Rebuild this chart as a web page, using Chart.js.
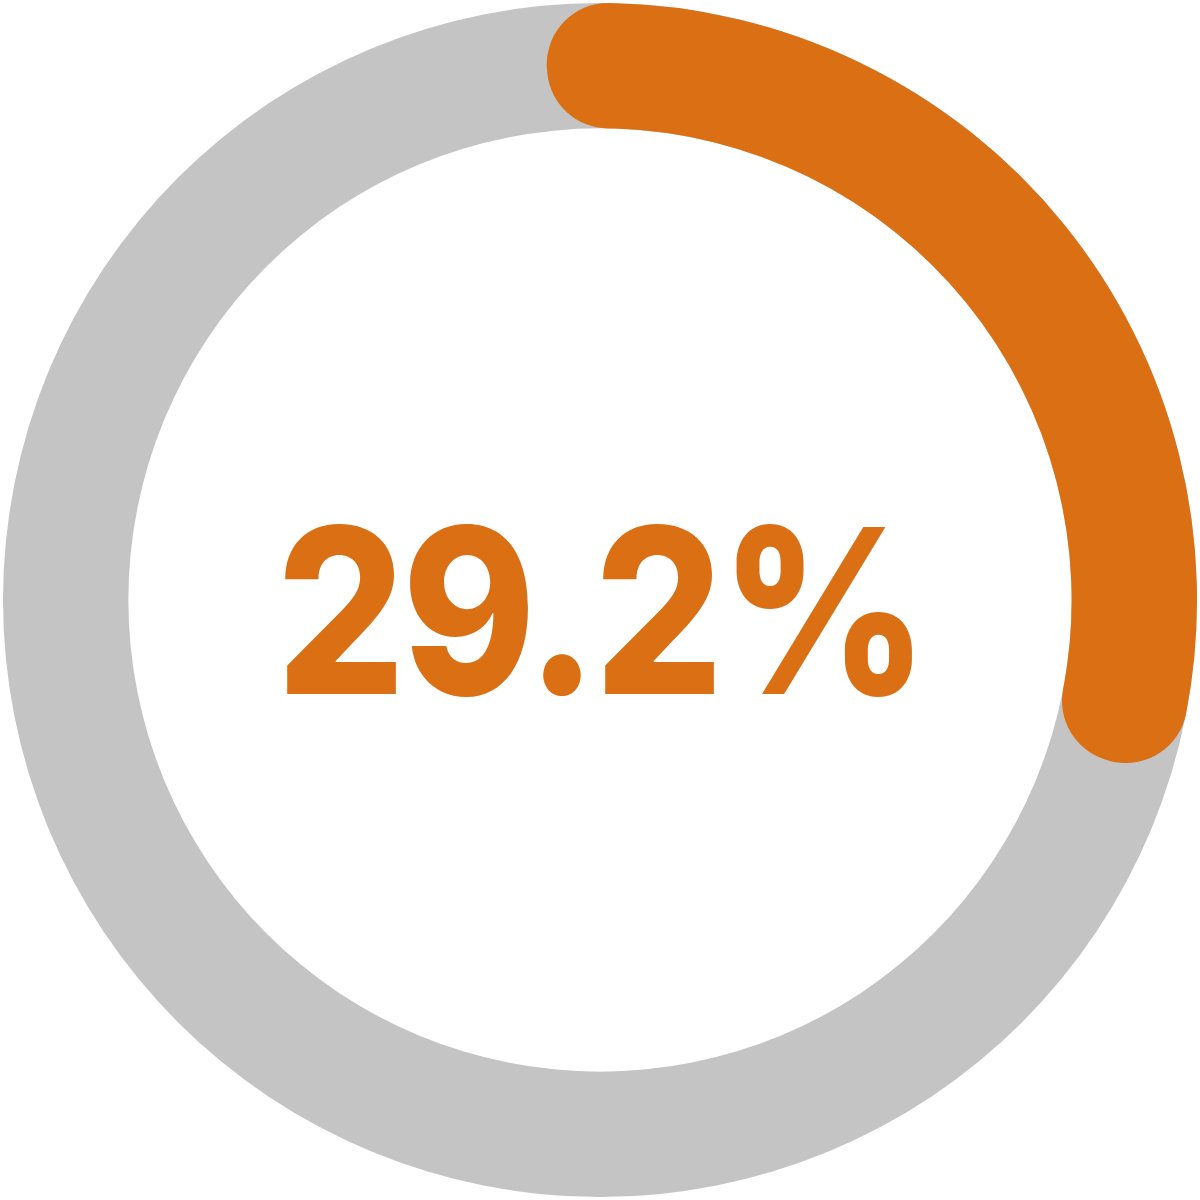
<!DOCTYPE html>
<html>
<head>
<meta charset="utf-8">
<script src="https://cdn.jsdelivr.net/npm/chart.js@4.4.1/dist/chart.umd.min.js"></script>
<style>
  html, body { margin: 0; padding: 0; background: #ffffff; }
  #wrap { position: relative; width: 1200px; height: 1200px; }
  #wrap canvas { position: absolute; left: 0; top: 0; }
</style>
</head>
<body>
<div id="wrap">
  <canvas id="track" width="1200" height="1200"></canvas>
  <canvas id="gauge" width="1200" height="1200"></canvas>
</div>
<script>
// ---- data ----
const categories = ["Share", "Remainder"];
const shareValue = 29.2;
const seriesValues = [shareValue, 100 - shareValue];
const trackValues = [100];
const centerLabel = shareValue.toFixed(1) + "%";

// ---- styles ----
const ORANGE = "#db6f14";
const GRAY = "#c4c4c4";

const common = {
  responsive: false,
  animation: false,
  events: [],
  radius: 597,
  cutout: 474,
  layout: { padding: 0 },
  plugins: { legend: { display: false }, tooltip: { enabled: false } }
};

new Chart(document.getElementById("track"), {
  type: "doughnut",
  data: {
    labels: ["Track"],
    datasets: [{ data: trackValues, backgroundColor: [GRAY], borderWidth: 0 }]
  },
  options: common
});

const centerText = {
  id: "centerText",
  afterDraw(chart) {
    const ctx = chart.ctx;
    ctx.save();
    ctx.fillStyle = ORANGE;
    ctx.font = "800 230px Inter";
    ctx.textAlign = "left";
    ctx.textBaseline = "alphabetic";
    if ("letterSpacing" in ctx) ctx.letterSpacing = "-4px";
    const m = ctx.measureText(centerLabel);
    const inkW = m.actualBoundingBoxLeft + m.actualBoundingBoxRight;
    const targetW = 627;
    const sx = targetW / inkW;
    ctx.translate(598.5, 694);
    ctx.scale(sx, 1);
    ctx.fillText(centerLabel, -inkW / 2 + m.actualBoundingBoxLeft, 0);
    ctx.restore();
  }
};

new Chart(document.getElementById("gauge"), {
  type: "doughnut",
  data: {
    labels: categories,
    datasets: [{
      data: seriesValues,
      backgroundColor: [ORANGE, "rgba(0,0,0,0)"],
      borderWidth: 0,
      borderRadius: [61.5, 0]
    }]
  },
  options: Object.assign({}, common, {
    rotation: -5.7,
    circumference: 387.7
  }),
  plugins: [centerText]
});
</script>
</body>
</html>
